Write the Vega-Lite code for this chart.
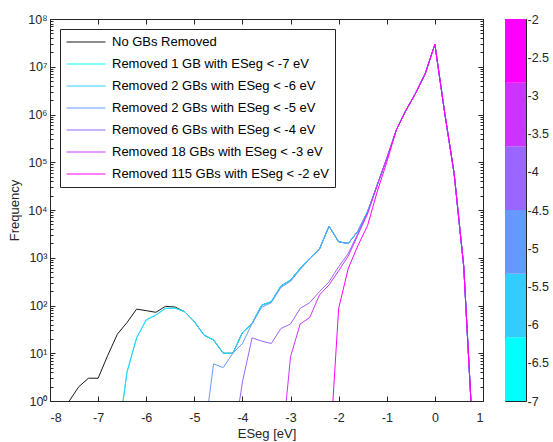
{
  "$schema": "https://vega.github.io/schema/vega-lite/v6.json",
  "padding": {"left": 8, "top": 12, "right": 0, "bottom": 0},
  "background": "white",
  "config": {
    "font": "Liberation Sans",
    "view": {"stroke": "#262626", "strokeWidth": 1},
    "axis": {"grid": false, "domain": false, "labelColor": "#262626", "tickColor": "#262626", "titleColor": "#262626", "labelFontSize": 12.5, "titleFontSize": 13, "titleFontWeight": "normal", "labelFont": "Liberation Sans", "titleFont": "Liberation Sans"},
    "legend": {"labelFont": "Liberation Sans", "labelFontSize": 13, "labelColor": "#000000"}
  },
  "resolve": {"scale": {"color": "independent"}},
  "hconcat": [
    {
      "width": 433,
      "height": 382,
      "data": {
        "values": [
          {"x": -7.6, "s0": 1},
          {"x": -7.4, "s0": 2},
          {"x": -7.2, "s0": 3},
          {"x": -7.0, "s0": 3},
          {"x": -6.8, "s0": 9},
          {"x": -6.6, "s0": 25, "s1": 0.13, "s2": 0.13},
          {"x": -6.4, "s0": 44, "s1": 4, "s2": 4},
          {"x": -6.2, "s0": 84, "s1": 21, "s2": 21},
          {"x": -6.0, "s0": 78, "s1": 50, "s2": 50},
          {"x": -5.8, "s0": 72, "s1": 63, "s2": 63},
          {"x": -5.6, "s0": 96, "s1": 87, "s2": 87},
          {"x": -5.4, "s0": 93, "s1": 88, "s2": 88},
          {"x": -5.2, "s0": 74, "s1": 74, "s2": 74},
          {"x": -5.0, "s0": 46, "s1": 46, "s2": 46},
          {"x": -4.8, "s0": 24, "s1": 24, "s2": 24, "s3": 0.17},
          {"x": -4.6, "s0": 19, "s1": 19, "s2": 19, "s3": 6},
          {"x": -4.4, "s0": 10, "s1": 10, "s2": 10, "s3": 5},
          {"x": -4.2, "s0": 10, "s1": 10, "s2": 10, "s3": 10, "s4": 0.12},
          {"x": -4.0, "s0": 27, "s1": 27, "s2": 27, "s3": 16, "s4": 2.5},
          {"x": -3.8, "s0": 42, "s1": 42, "s2": 42, "s3": 42, "s4": 21},
          {"x": -3.6, "s0": 102, "s1": 102, "s2": 102, "s3": 92, "s4": 18},
          {"x": -3.4, "s0": 120, "s1": 120, "s2": 120, "s3": 115, "s4": 16},
          {"x": -3.2, "s0": 256, "s1": 256, "s2": 256, "s3": 240, "s4": 33, "s5": 0.07},
          {"x": -3.0, "s0": 340, "s1": 340, "s2": 340, "s3": 320, "s4": 41, "s5": 8.5},
          {"x": -2.8, "s0": 600, "s1": 600, "s2": 600, "s3": 570, "s4": 87, "s5": 41},
          {"x": -2.6, "s0": 980, "s1": 980, "s2": 980, "s3": 950, "s4": 115, "s5": 56},
          {"x": -2.4, "s0": 1520, "s1": 1520, "s2": 1520, "s3": 1500, "s4": 195, "s5": 166},
          {"x": -2.2, "s0": 4600, "s1": 4600, "s2": 4600, "s3": 4500, "s4": 315, "s5": 270, "s6": 0.05},
          {"x": -2.0, "s0": 2150, "s1": 2150, "s2": 2150, "s3": 2150, "s4": 650, "s5": 535, "s6": 87},
          {"x": -1.8, "s0": 2000, "s1": 2000, "s2": 2000, "s3": 2000, "s4": 1230, "s5": 1090, "s6": 600},
          {"x": -1.6, "s0": 3600, "s1": 3600, "s2": 3600, "s3": 3600, "s4": 3240, "s5": 3000, "s6": 1800},
          {"x": -1.4, "s0": 9200, "s1": 9200, "s2": 9200, "s3": 9200, "s4": 8500, "s5": 8300, "s6": 4700},
          {"x": -1.2, "s0": 33000, "s1": 33000, "s2": 33000, "s3": 33000, "s4": 33000, "s5": 33000, "s6": 24000},
          {"x": -1.0, "s0": 120000, "s1": 120000, "s2": 120000, "s3": 120000, "s4": 120000, "s5": 120000, "s6": 100000},
          {"x": -0.8, "s0": 480000, "s1": 480000, "s2": 480000, "s3": 480000, "s4": 480000, "s5": 480000, "s6": 480000},
          {"x": -0.6, "s0": 1230000, "s1": 1230000, "s2": 1230000, "s3": 1230000, "s4": 1230000, "s5": 1230000, "s6": 1230000},
          {"x": -0.4, "s0": 2800000, "s1": 2800000, "s2": 2800000, "s3": 2800000, "s4": 2800000, "s5": 2800000, "s6": 2800000},
          {"x": -0.2, "s0": 7200000, "s1": 7200000, "s2": 7200000, "s3": 7200000, "s4": 7200000, "s5": 7200000, "s6": 7200000},
          {"x": 0.0, "s0": 29500000, "s1": 29500000, "s2": 29500000, "s3": 29500000, "s4": 29500000, "s5": 29500000, "s6": 29500000},
          {"x": 0.2, "s0": 1150000, "s1": 1150000, "s2": 1150000, "s3": 1150000, "s4": 1150000, "s5": 1150000, "s6": 1150000},
          {"x": 0.4, "s0": 58000, "s1": 58000, "s2": 58000, "s3": 58000, "s4": 58000, "s5": 58000, "s6": 58000},
          {"x": 0.6, "s0": 650, "s1": 650, "s2": 650, "s3": 650, "s4": 650, "s5": 650, "s6": 650},
          {"x": 0.8, "s0": 0.11, "s1": 0.11, "s2": 0.11, "s3": 0.11, "s4": 0.11, "s5": 0.11, "s6": 0.11}
        ]
      },
      "transform": [
        {"fold": ["s0", "s1", "s2", "s3", "s4", "s5", "s6"], "as": ["series", "f"]},
        {"filter": "isValid(datum.f)"}
      ],
      "layer": [
        {
          "mark": {"type": "line", "strokeWidth": 1, "clip": true},
          "encoding": {
            "x": {"field": "x", "type": "quantitative", "scale": {"domain": [-8, 1], "nice": false, "zero": false},
              "axis": {"orient": "bottom", "values": [-8, -7, -6, -5, -4, -3, -2, -1, 0, 1], "tickSize": -5, "labelPadding": 15, "labelExpr": "toString(datum.value)", "title": "ESeg [eV]", "titlePadding": 4}},
            "y": {"field": "f", "type": "quantitative", "scale": {"type": "log", "domain": [1, 100000000], "nice": false},
              "axis": {"orient": "left",
                "values": [1,2,3,4,5,6,7,8,9,10,20,30,40,50,60,70,80,90,100,200,300,400,500,600,700,800,900,1000,2000,3000,4000,5000,6000,7000,8000,9000,10000,20000,30000,40000,50000,60000,70000,80000,90000,100000,200000,300000,400000,500000,600000,700000,800000,900000,1000000,2000000,3000000,4000000,5000000,6000000,7000000,8000000,9000000,10000000,20000000,30000000,40000000,50000000,60000000,70000000,80000000,90000000,100000000],
                "tickSize": {"condition": {"test": "abs(log(datum.value)/LN10 - round(log(datum.value)/LN10)) < 0.000001", "value": -5}, "value": -3},
                "labelExpr": "abs(log(datum.value)/LN10 - round(log(datum.value)/LN10)) < 0.000001 ? '10' + ['⁰','¹','²','³','⁴','⁵','⁶','⁷','⁸'][round(log(datum.value)/LN10)] : ''",
                "labelPadding": 8, "labelOverlap": false, "title": "Frequency", "titlePadding": 6}},
            "color": {"field": "series", "type": "nominal",
              "scale": {"domain": ["s0", "s1", "s2", "s3", "s4", "s5", "s6"], "range": ["#1a1a1a", "#00ffff", "#33ccff", "#6699ff", "#9966ff", "#cc33ff", "#ff00ff"]},
              "legend": {"title": null, "orient": "top-left", "offset": 10, "padding": 6, "rowPadding": 8, "symbolType": "M-1,0H5", "symbolSize": 169, "symbolStrokeWidth": 1, "labelOffset": 32, "labelLimit": 0, "strokeColor": "#262626", "fillColor": "white", "cornerRadius": 0,
                "labelExpr": "['No GBs Removed', 'Removed 1 GB with ESeg < -7 eV', 'Removed 2 GBs with ESeg < -6 eV', 'Removed 2 GBs with ESeg < -5 eV', 'Removed 6 GBs with ESeg < -4 eV', 'Removed 18 GBs with ESeg < -3 eV', 'Removed 115 GBs with ESeg < -2 eV'][indexof(['s0','s1','s2','s3','s4','s5','s6'], datum.value)]"}}
          }
        },
        {
          "mark": {"type": "line", "opacity": 0},
          "encoding": {
            "x": {"field": "x", "type": "quantitative", "axis": {"orient": "top", "values": [-8, -7, -6, -5, -4, -3, -2, -1, 0, 1], "tickSize": -5, "labels": false, "title": null}},
            "y": {"field": "f", "type": "quantitative",
              "axis": {"orient": "right", "labels": false, "title": null,
                "values": [1,2,3,4,5,6,7,8,9,10,20,30,40,50,60,70,80,90,100,200,300,400,500,600,700,800,900,1000,2000,3000,4000,5000,6000,7000,8000,9000,10000,20000,30000,40000,50000,60000,70000,80000,90000,100000,200000,300000,400000,500000,600000,700000,800000,900000,1000000,2000000,3000000,4000000,5000000,6000000,7000000,8000000,9000000,10000000,20000000,30000000,40000000,50000000,60000000,70000000,80000000,90000000,100000000],
                "tickSize": {"condition": {"test": "abs(log(datum.value)/LN10 - round(log(datum.value)/LN10)) < 0.000001", "value": -5}, "value": -3}}},
            "detail": {"field": "series", "type": "nominal"}
          }
        }
      ],
      "resolve": {"axis": {"x": "independent", "y": "independent"}}
    },
    {
      "width": 21,
      "height": 382,
      "data": {
        "values": [
          {"lo": -7, "hi": -6.1667, "band": 0},
          {"lo": -6.1667, "hi": -5.3333, "band": 1},
          {"lo": -5.3333, "hi": -4.5, "band": 2},
          {"lo": -4.5, "hi": -3.6667, "band": 3},
          {"lo": -3.6667, "hi": -2.8333, "band": 4},
          {"lo": -2.8333, "hi": -2, "band": 5}
        ]
      },
      "mark": {"type": "rect"},
      "encoding": {
        "y": {"field": "lo", "type": "quantitative", "scale": {"domain": [-7, -2], "nice": false, "zero": false},
          "axis": {"orient": "right", "values": [-7, -6.5, -6, -5.5, -5, -4.5, -4, -3.5, -3, -2.5, -2], "tickSize": -4, "labelPadding": 5, "labelExpr": "toString(datum.value)", "title": null, "labelOverlap": false}},
        "y2": {"field": "hi"},
        "color": {"field": "band", "type": "nominal", "legend": null,
          "scale": {"domain": [0, 1, 2, 3, 4, 5], "range": ["#00ffff", "#33ccff", "#6699ff", "#9966ff", "#cc33ff", "#ff00ff"]}}
      }
    }
  ],
  "spacing": 20
}
